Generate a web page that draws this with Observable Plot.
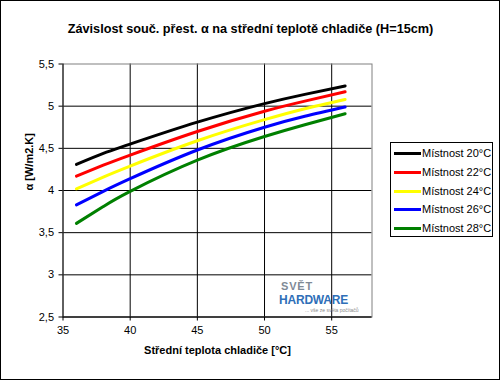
<!DOCTYPE html>
<html>
<head>
<meta charset="utf-8">
<script src="https://cdn.jsdelivr.net/npm/d3@7"></script>
<script src="https://cdn.jsdelivr.net/npm/@observablehq/plot@0.6"></script>
<style>
  html, body { margin: 0; padding: 0; background: #fff; }
  #wrap { position: relative; width: 500px; height: 380px; font-family: "Liberation Sans", Arial, sans-serif; }
  #border { position: absolute; left: 0; top: 0; width: 498px; height: 378px; border: 1px solid #000; pointer-events: none; }
  #chart { position: absolute; left: 0; top: 0; }
  #legend { position: absolute; left: 390px; top: 142px; width: 101px; height: 93px; border: 1px solid #000; background: #fff; }
  .entry { position: absolute; left: 2px; height: 14px; font-size: 11px; color: #000; white-space: nowrap; }
  .swatch { position: absolute; left: 1px; top: 6px; width: 27px; height: 3px; }
  .lbl { position: absolute; left: 29px; top: 0; line-height: 14px; }
  #wm { position: absolute; left: 278px; top: 281px; width: 92px; height: 34px; pointer-events: none; white-space: nowrap; }
  #wm div { position: absolute; white-space: nowrap; }
  #wm .s { left: 3px; top: 0; font-size: 11px; line-height: 11px; font-weight: bold; color: #7f8a96; letter-spacing: 0.8px; }
  #wm .h { left: 1px; top: 13px; font-size: 12px; line-height: 12px; font-weight: bold; color: #2f6fb8; letter-spacing: -0.2px; }
  #wm .t { left: 27px; top: 27px; font-size: 5px; line-height: 5px; color: #8a8a8a; }
</style>
</head>
<body>
<div id="wrap">
  <div id="chart"></div>
  <div id="wm"><div class="s">SVĚT</div><div class="h">HARDWARE</div><div class="t">... vše ze světa počítačů</div></div>
  <div id="legend"></div>
  <div id="border"></div>
</div>
<script>
const title = "Závislost souč. přest. α na střední teplotě chladiče (H=15cm)";
const xLabel = "Střední teplota chladiče [°C]";
const yLabel = "α [W/m2.K]";

const xTicks = [35, 40, 45, 50, 55];
const yTicks = [2.5, 3, 3.5, 4, 4.5, 5, 5.5];

const temps = [36, 38, 40, 45, 50, 53, 56];
const seriesNames = ["Místnost 20°C", "Místnost 22°C", "Místnost 24°C", "Místnost 26°C", "Místnost 28°C"];
const colors = ["#000000", "#ff0000", "#ffff00", "#0000ff", "#008000"];

const room20 = [4.31, 4.44, 4.55, 4.81, 5.03, 5.14, 5.24];
const room22 = [4.17, 4.30, 4.42, 4.70, 4.94, 5.06, 5.17];
const room24 = [4.02, 4.16, 4.29, 4.59, 4.84, 4.97, 5.08];
const room26 = [3.83, 3.99, 4.14, 4.48, 4.75, 4.88, 4.99];
const room28 = [3.61, 3.81, 3.99, 4.36, 4.64, 4.78, 4.91];

const seriesValues = [room20, room22, room24, room26, room28];
const rows = [];
seriesNames.forEach((name, i) => {
  temps.forEach((t, j) => rows.push({series: name, t, a: seriesValues[i][j]}));
});

const fmt = d => String(d).replace(".", ",");

const chart = Plot.plot({
  width: 500,
  height: 380,
  marginLeft: 62.5,
  marginRight: 128.5,
  marginTop: 63.5,
  marginBottom: 63.5,
  style: { fontFamily: "'Liberation Sans', Arial, sans-serif", fontSize: "11px", background: "transparent", color: "#000" },
  x: { domain: [35, 58] },
  y: { domain: [2.5, 5.5] },
  color: { domain: seriesNames, range: colors },
  marks: [
    Plot.gridX(xTicks.slice(1), { stroke: "#000", strokeOpacity: 1, strokeWidth: 1 }),
    Plot.gridY(yTicks.slice(0, -1), { stroke: "#000", strokeOpacity: 1, strokeWidth: 1 }),
    Plot.frame({ stroke: "#808080" }),
    Plot.ruleX([35], { stroke: "#000" }),
    Plot.ruleY([2.5], { stroke: "#000" }),
    Plot.axisX(xTicks, { tickSize: 4, tickPadding: 5, label: null, fontSize: 11 }),
    Plot.axisY(yTicks, { tickSize: 4, tickPadding: 5, tickFormat: fmt, label: null, fontSize: 11 }),
    Plot.line(rows, { x: "t", y: "a", z: "series", stroke: "series", strokeWidth: 3, curve: "natural" }),
    Plot.text([title], { frameAnchor: "top", dx: 33, dy: -40, fontSize: 12.7, fontWeight: "bold", fill: "#000" }),
    Plot.text([xLabel], { frameAnchor: "bottom", dy: 37, fontSize: 11, fontWeight: "bold", fill: "#000" }),
    Plot.text([yLabel], { frameAnchor: "left", dx: -34, rotate: -90, fontSize: 11, fontWeight: "bold", fill: "#000" })
  ]
});
document.getElementById("chart").appendChild(chart);

const legend = document.getElementById("legend");
seriesNames.forEach((name, i) => {
  const e = document.createElement("div");
  e.className = "entry";
  e.style.top = (3 + i * 18.8) + "px";
  const sw = document.createElement("div");
  sw.className = "swatch";
  sw.style.background = colors[i];
  const l = document.createElement("span");
  l.className = "lbl";
  l.textContent = name;
  e.appendChild(sw);
  e.appendChild(l);
  legend.appendChild(e);
});
</script>
</body>
</html>
